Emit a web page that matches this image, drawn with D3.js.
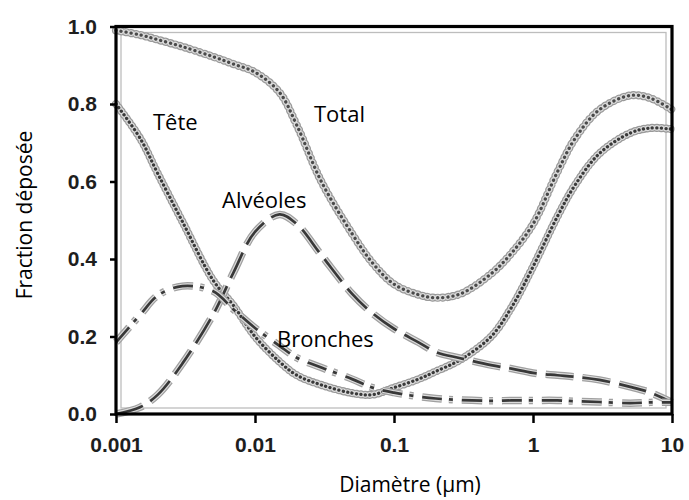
<!DOCTYPE html>
<html>
<head>
<meta charset="utf-8">
<script src="https://cdn.jsdelivr.net/npm/d3@7"></script>
<style>
    body { margin: 0; background: #fff; }
</style>
</head>
<body>
<script>

// Diameters (um) where the curves were read
var diam = [0.001, 0.0015, 0.002, 0.003, 0.005, 0.007, 0.01, 0.015, 0.02, 0.03, 0.05, 0.07,
            0.1, 0.15, 0.2, 0.3, 0.5, 0.7, 1, 1.5, 2, 3, 5, 7, 10];

// Deposited fraction for each region
var total     = [0.99, 0.978, 0.966, 0.948, 0.922, 0.903, 0.882, 0.83, 0.745, 0.60, 0.465, 0.39,
                 0.335, 0.308, 0.30, 0.31, 0.362, 0.415, 0.49, 0.625, 0.71, 0.785, 0.822, 0.815, 0.785];
var tete      = [0.80, 0.71, 0.62, 0.497, 0.345, 0.28, 0.20, 0.135, 0.10, 0.075, 0.054, 0.05,
                 0.068, 0.09, 0.11, 0.14, 0.20, 0.275, 0.38, 0.51, 0.59, 0.672, 0.725, 0.738, 0.735];
var alveoles  = [0.0, 0.018, 0.05, 0.13, 0.257, 0.365, 0.47, 0.515, 0.49, 0.41, 0.31, 0.26,
                 0.22, 0.185, 0.16, 0.144, 0.126, 0.117, 0.106, 0.10, 0.096, 0.088, 0.07, 0.055, 0.03];
var bronches  = [0.185, 0.257, 0.306, 0.33, 0.317, 0.27, 0.222, 0.176, 0.145, 0.12, 0.09, 0.068,
                 0.055, 0.045, 0.04, 0.036, 0.034, 0.035, 0.035, 0.035, 0.033, 0.031, 0.028, 0.03, 0.03];

// Ticks
var xTicks = [0.001, 0.01, 0.1, 1, 10],
    xTickLabels = ["0.001", "0.01", "0.1", "1", "10"];
var yTicks = [0, 0.2, 0.4, 0.6, 0.8, 1.0];

// Margins
var margin = { top: 26.5, right: 17, bottom: 86, left: 116 },
    width = 689 - margin.left - margin.right,
    height = 500 - margin.top - margin.bottom;

var svg = d3.select("body").
            append("svg").
            attr("width", 689).
            attr("height", 500);

var g = svg.append("g").
            attr("transform", "translate(" + margin.left + "," + margin.top + ")");

var x = d3.scaleLog().domain([0.001, 10]).range([0, width]);
var y = d3.scaleLinear().domain([0, 1]).range([height, 0]);

// inner light frame (double border look)
g.append("rect").
    attr("x", 5).attr("y", 6).
    attr("width", width - 11).attr("height", height - 12).
    attr("fill", "none").
    attr("stroke", "#bdbdbd").
    attr("stroke-width", 1.3);

var line = d3.line().
            x(function(d) { return x(d[0]); }).
            y(function(d) { return y(d[1]); }).
            curve(d3.curveCatmullRom);

function pairs(vals) {
    return diam.map(function(d, i) { return [d, vals[i]]; });
}

// dashed curve: halo + light core + dark center, same dash pattern
function drawDashed(vals, dash) {
    var p = line(pairs(vals));
    [["#a0a0a0", 7.5], ["#dcdcdc", 5], ["#383838", 2.7]].forEach(function(s) {
        g.append("path").attr("d", p).
            attr("fill", "none").attr("stroke", s[0]).
            attr("stroke-width", s[1]).attr("stroke-dasharray", dash);
    });
}

// dotted curve: chain of small round beads
function drawDotted(vals, step, dark) {
    var p = line(pairs(vals));
    [["#9a9a9a", 8.2], ["#dadada", 5.8], [dark, 3.3]].forEach(function(s) {
        g.append("path").attr("d", p).
            attr("fill", "none").attr("stroke", s[0]).
            attr("stroke-width", s[1]).
            attr("stroke-linecap", "round").
            attr("stroke-dasharray", "0.1," + step);
    });
}

drawDotted(total, 5, "#4a4a4a");
drawDotted(tete, 4.4, "#3a3a3a");
drawDashed(alveoles, "28,9");
drawDashed(bronches, "20,7,4,9");

// Axes
var yAxis = g.append("g").
    call(d3.axisLeft(y).tickValues(yTicks).tickFormat(d3.format(".1f")).tickSize(6).tickPadding(13));

var xAxis = g.append("g").
    attr("transform", "translate(0," + height + ")").
    call(d3.axisBottom(x).tickValues(xTicks).
        tickFormat(function(d, i) { return xTickLabels[i]; }).
        tickSize(9).tickPadding(14));

[yAxis, xAxis].forEach(function(a) {
    a.select(".domain").remove();
    a.selectAll("line").attr("stroke", "#000").attr("stroke-width", 2.5);
    a.selectAll("text").
        attr("fill", "#1e1e1e").
        style("font-family", "'Liberation Sans', Arial, sans-serif").
        style("font-weight", "bold").
        style("font-size", "21px");
});

// outer black frame
g.append("rect").
    attr("x", 0).attr("y", 0).
    attr("width", width).attr("height", height).
    attr("fill", "none").
    attr("stroke", "#000").
    attr("stroke-width", 3.2);

// Curve labels
var labels = [
    { t: "Tête", x: 153, y: 130 },
    { t: "Total", x: 314, y: 122 },
    { t: "Alvéoles", x: 222, y: 208 },
    { t: "Bronches", x: 277, y: 347 }
];

svg.selectAll("text.lbl").data(labels).
    enter().append("text").
    attr("class", "lbl").
    attr("x", function(d) { return d.x; }).
    attr("y", function(d) { return d.y; }).
    style("font-family", "'Open Sans', sans-serif").
    style("font-size", "22px").
    attr("fill", "#000").
    text(function(d) { return d.t; });

// Axis titles
svg.append("text").
    attr("transform", "translate(32,215) rotate(-90)").
    attr("text-anchor", "middle").
    style("font-family", "'Open Sans', sans-serif").
    style("font-size", "21px").
    text("Fraction déposée");

svg.append("text").
    attr("x", 410).attr("y", 492).
    attr("text-anchor", "middle").
    style("font-family", "'Open Sans', sans-serif").
    style("font-size", "21px").
    text("Diamètre (µm)");

</script>
</body>
</html>
